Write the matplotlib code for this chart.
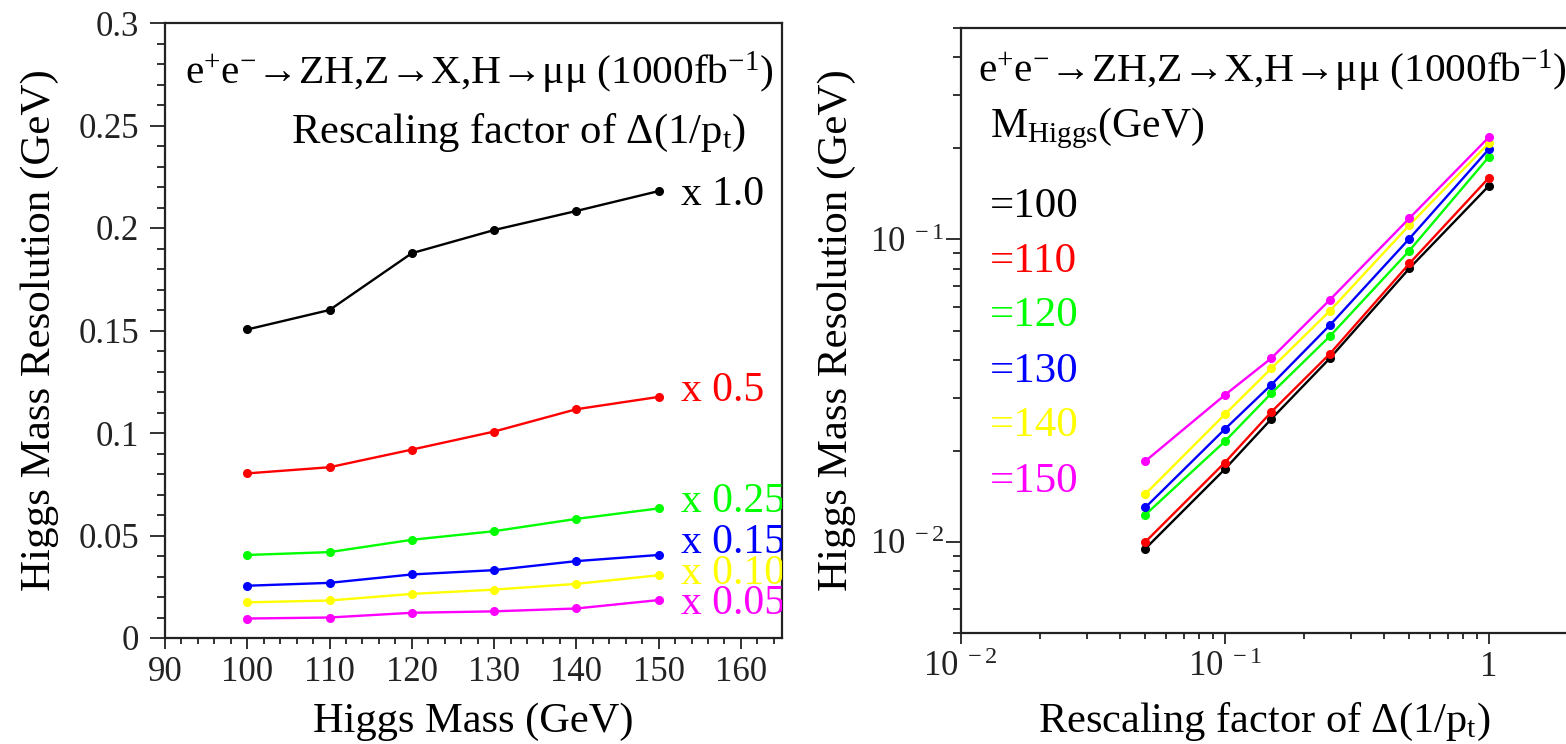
import matplotlib
matplotlib.use("Agg")
import matplotlib.pyplot as plt
from matplotlib.ticker import MultipleLocator, FixedLocator, NullFormatter, LogLocator, FixedFormatter

plt.rcParams['font.family'] = ['Liberation Serif', 'DejaVu Serif']
plt.rcParams['mathtext.fontset'] = 'custom'
plt.rcParams['mathtext.rm'] = 'Liberation Serif'
plt.rcParams['mathtext.it'] = 'Liberation Serif:italic'
plt.rcParams['mathtext.bf'] = 'Liberation Serif:bold'

# ---------------- data ----------------
masses = [100, 110, 120, 130, 140, 150]
factors = [0.05, 0.10, 0.15, 0.25, 0.5, 1.0]
factor_labels = ['x 0.05', 'x 0.10', 'x 0.15', 'x 0.25', 'x 0.5', 'x 1.0']
mass_labels = ['=100', '=110', '=120', '=130', '=140', '=150']

res_x005 = [0.0095, 0.0100, 0.0123, 0.0130, 0.0144, 0.0185]
res_x010 = [0.0174, 0.0183, 0.0215, 0.0236, 0.0264, 0.0306]
res_x015 = [0.0255, 0.0269, 0.0310, 0.0331, 0.0375, 0.0405]
res_x025 = [0.0405, 0.0419, 0.0479, 0.0521, 0.0581, 0.0632]
res_x050 = [0.0803, 0.0833, 0.0919, 0.1007, 0.1116, 0.1176]
res_x100 = [0.1505, 0.1600, 0.1877, 0.1990, 0.2083, 0.2180]

factor_colors = ['#ff00ff', '#ffff00', '#0000ff', '#00ff00', '#ff0000', '#000000']
mass_colors = ['#000000', '#ff0000', '#00ff00', '#0000ff', '#ffff00', '#ff00ff']

by_factor = [res_x005, res_x010, res_x015, res_x025, res_x050, res_x100]

# ---------------- figure ----------------
W, H = 1566, 744
fig = plt.figure(figsize=(W / 100, H / 100), dpi=100)
fig.patch.set_facecolor('white')


def px_axes(x0, y0, x1, y1):
    return fig.add_axes([x0 / W, (H - y1) / H, (x1 - x0) / W, (y1 - y0) / H])


def style_axes(ax, ypad):
    for s in ax.spines.values():
        s.set_linewidth(1.6)
        s.set_color('#222222')
    ax.tick_params(which='both', direction='out', colors='#222222', width=1.3,
                   labelsize=25, top=False, right=False)
    ax.tick_params(axis='y', which='major', length=10.5, pad=ypad)
    ax.tick_params(axis='y', which='minor', length=6)
    ax.tick_params(axis='x', which='major', length=8, pad=5)
    ax.tick_params(axis='x', which='minor', length=4.5)


# ---------- left panel ----------
axL = px_axes(165, 23, 782, 638)
for vals, col in zip(by_factor, factor_colors):
    axL.plot(masses, vals, '-', color=col, lw=1.7, marker='o', ms=5.5, zorder=3)
axL.set_xlim(90, 165)
axL.set_ylim(0, 0.3)
axL.xaxis.set_major_locator(FixedLocator([90, 100, 110, 120, 130, 140, 150, 160]))
axL.xaxis.set_minor_locator(MultipleLocator(2))
axL.yaxis.set_major_locator(FixedLocator([0, 0.05, 0.1, 0.15, 0.2, 0.25, 0.3]))
axL.yaxis.set_major_formatter(FixedFormatter(['0', '0.05', '0.1', '0.15', '0.2', '0.25', '0.3']))
axL.yaxis.set_minor_locator(MultipleLocator(0.01))
style_axes(axL, 8)
axL.set_xlabel('Higgs Mass (GeV)', fontsize=30.5, labelpad=10)
axL.set_ylabel('Higgs Mass Resolution (GeV)', fontsize=31, labelpad=14)

axL.text(0.032, 0.918, r'e$^{+}$e$^{-}$→ZH,Z→X,H→μμ (1000fb$^{-1}$)',
         transform=axL.transAxes, fontsize=29.8, va='center', ha='left')
axL.text(0.204, 0.821, r'Rescaling factor of Δ(1/p$_{\mathregular{t}}$)',
         transform=axL.transAxes, fontsize=30.7, va='center', ha='left')

lab_y_px = [604, 574, 543, 502, 391, 195]
for lab, col, ypx in zip(factor_labels, factor_colors, lab_y_px):
    axL.text((681 - 165) / (782 - 165), (638 - ypx) / (638 - 23), lab,
             transform=axL.transAxes, fontsize=30, color=col,
             va='center', ha='left', clip_on=True)

# ---------- right panel ----------
axR = px_axes(960.7, 28, 1568.5, 633)
for i, col in enumerate(mass_colors):
    yv = [series[i] for series in by_factor]
    axR.plot(factors, yv, '-', color=col, lw=1.7, marker='o', ms=5.5, zorder=3)
axR.set_xscale('log')
axR.set_yscale('log')
axR.set_xlim(0.01, 2.0)
axR.set_ylim(0.005, 0.5)
axR.xaxis.set_major_locator(FixedLocator([0.01, 0.1, 1]))
axR.xaxis.set_major_formatter(FixedFormatter([r'10$^{\mathregular{\ -2}}$',
                                              r'10$^{\mathregular{\ -1}}$', '1']))
axR.xaxis.set_minor_locator(LogLocator(base=10, subs=range(2, 10)))
axR.xaxis.set_minor_formatter(NullFormatter())
axR.yaxis.set_major_locator(FixedLocator([0.01, 0.1]))
axR.yaxis.set_major_formatter(FixedFormatter([r'10$^{\mathregular{\ -2}}$',
                                              r'10$^{\mathregular{\ -1}}$']))
axR.yaxis.set_minor_locator(LogLocator(base=10, subs=range(2, 10)))
axR.yaxis.set_minor_formatter(NullFormatter())
style_axes(axR, 1)
axR.spines['right'].set_visible(False)
axR.set_xlabel(r'Rescaling factor of Δ(1/p$_{\mathregular{t}}$)', fontsize=30.5, labelpad=12)
axR.set_ylabel('Higgs Mass Resolution (GeV)', fontsize=31, labelpad=10)

axW = 1568.5 - 960.7
axH = 633 - 28
axR.text((978 - 960.7) / axW, (633 - 71) / axH,
         r'e$^{+}$e$^{-}$→ZH,Z→X,H→μμ (1000fb$^{-1}$)',
         transform=axR.transAxes, fontsize=29.8, va='center', ha='left')
axR.text((990 - 960.7) / axW, (633 - 128) / axH, r'M$_{\mathregular{Higgs}}$(GeV)',
         transform=axR.transAxes, fontsize=30, va='center', ha='left')
mlab_y_px = [207, 262, 316, 372, 426, 482]
for lab, col, ypx in zip(mass_labels, mass_colors, mlab_y_px):
    axR.text((990 - 960.7) / axW, (633 - ypx) / axH, lab,
             transform=axR.transAxes, fontsize=31, color=col,
             va='center', ha='left')

fig.savefig('out.png', dpi=100, facecolor='white')
